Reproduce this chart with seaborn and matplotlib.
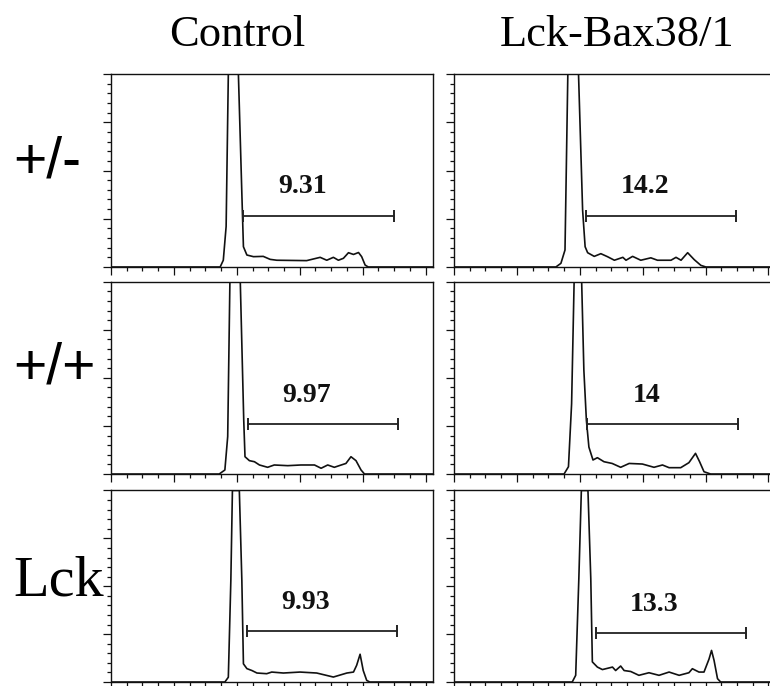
import matplotlib
matplotlib.use("Agg")
import matplotlib.pyplot as plt
from matplotlib.ticker import MultipleLocator
import seaborn as sns

col_titles = ["Control", "Lck-Bax38/1"]
row_labels = ["+/-", "+/+", "Lck"]

# DNA content histograms (channel, count)
ctrl_het_x = [0, 347, 357, 366, 373, 405, 416, 421, 432, 453, 484, 506, 527, 622, 665, 686, 707,
              723, 739, 755, 771, 787, 797, 808, 818, 1024]
ctrl_het_y = [0, 0, 7, 42, 200, 200, 76, 21, 12.4, 10.7, 11, 7.9, 7, 6.6, 10, 7, 10,
              7, 9, 14.8, 13, 15, 10.7, 2, 0, 0]

bax_het_x = [0, 324, 340, 353, 362, 396, 409, 417, 425, 446, 467, 488, 510, 537, 547, 568, 594,
             626, 647, 690, 706, 722, 743, 764, 785, 801, 1024]
bax_het_y = [0, 0, 3.8, 17.6, 200, 200, 59, 21, 14.8, 11, 13.8, 10.7, 7, 10, 7, 11, 7,
             9.5, 7, 7, 10, 7, 14.8, 7.6, 1.7, 0, 0]

ctrl_wt_x = [0, 344, 362, 371, 378, 411, 422, 426, 440, 456, 472, 498, 519, 562, 604, 647, 668,
             689, 710, 732, 747, 763, 779, 795, 806, 1024]
ctrl_wt_y = [0, 0, 4.2, 39, 200, 200, 56, 18, 13.9, 12.8, 9.4, 7, 9.4, 8.7, 9.4, 9.4, 6,
             9.4, 7, 9.4, 11, 18, 13.9, 4.2, 0, 0]

bax_wt_x = [0, 350, 364, 374, 382, 406, 413, 421, 429, 442, 456, 477, 503, 530, 557, 599, 636,
            663, 684, 721, 747, 768, 781, 795, 816, 1024]
bax_wt_y = [0, 0, 7.6, 73, 200, 200, 108, 56, 28, 14.6, 17, 12.8, 11, 7, 11, 10.4, 7,
            9.4, 6.6, 6.6, 11.8, 21.5, 12.8, 2.4, 0, 0]

ctrl_lck_x = [0, 362, 373, 381, 386, 408, 416, 421, 432, 448, 464, 495, 511, 548, 601, 654, 707,
              750, 771, 781, 792, 802, 813, 823, 1024]
ctrl_lck_y = [0, 0, 5, 106, 200, 200, 106, 19, 14, 12, 9.4, 8.7, 10.4, 9.4, 10.4, 9.4, 5.2,
              9.4, 10.4, 17.4, 29, 12, 1.7, 0, 0]

bax_lck_x = [0, 376, 387, 397, 405, 426, 435, 440, 456, 472, 504, 514, 530, 541, 562, 588, 620,
             652, 684, 716, 747, 758, 779, 795, 811, 819, 827, 838, 848, 1024]
bax_lck_y = [0, 0, 7, 108, 200, 200, 108, 21, 15.6, 13, 15.6, 12, 16.7, 12, 11, 7, 9.7,
             7, 10.4, 7, 9.7, 13.9, 10.4, 10.4, 24, 33, 22.6, 3.5, 0, 0]

hist_x = [[ctrl_het_x, bax_het_x], [ctrl_wt_x, bax_wt_x], [ctrl_lck_x, bax_lck_x]]
hist_y = [[ctrl_het_y, bax_het_y], [ctrl_wt_y, bax_wt_y], [ctrl_lck_y, bax_lck_y]]

# marker gates (% of cells above the G1 peak)
gate_pct = [["9.31", "14.2"], ["9.97", "14"], ["9.93", "13.3"]]
gate_lo = [[421, 420], [435, 424], [432, 451]]
gate_hi = [[900, 897], [912, 904], [909, 928]]
gate_y = [[53, 53], [52, 52], [53, 51]]

sns.set_style("ticks")
plt.rcParams["font.family"] = ["Liberation Serif", "DejaVu Serif"]

fig = plt.figure(figsize=(7.7, 6.86), dpi=100)

col_left = [0.1442, 0.5896]
row_bottom = [0.6108, 0.3090, 0.0058]
row_height = [0.2813, 0.2803, 0.2792]
ink = "#111111"

for r in range(3):
    for c in range(2):
        ax = fig.add_axes([col_left[c], row_bottom[r], 0.4182, row_height[r]])
        sns.lineplot(x=hist_x[r][c], y=hist_y[r][c], ax=ax, color=ink, lw=1.2, sort=False)
        ax.plot([gate_lo[r][c], gate_hi[r][c]], [gate_y[r][c]] * 2, color="#222222", lw=1.3,
                marker="|", markersize=9, markeredgewidth=1.4)
        mid = gate_lo[r][c] + 0.39 * (gate_hi[r][c] - gate_lo[r][c])
        ax.text(mid, gate_y[r][c] + 30, gate_pct[r][c], ha="center", va="center",
                fontsize=20, fontweight="bold", color=ink)
        ax.set_xlim(0, 1024)
        ax.set_ylim(0, 200)
        ax.xaxis.set_major_locator(MultipleLocator(200))
        ax.xaxis.set_minor_locator(MultipleLocator(50))
        ax.yaxis.set_major_locator(MultipleLocator(50))
        ax.yaxis.set_minor_locator(MultipleLocator(10))
        ax.tick_params(which="major", direction="out", length=5.5, width=0.9, color=ink,
                       labelbottom=False, labelleft=False)
        ax.tick_params(which="minor", direction="out", length=2.8, width=0.9, color=ink)
        ax.set_xlabel("")
        ax.set_ylabel("")
        for s in ax.spines.values():
            s.set_visible(True)
            s.set_linewidth(1.0)
            s.set_color(ink)

title_x = [237, 617]
for c in range(2):
    fig.text(title_x[c] / 770, 1 - 46 / 686, col_titles[c], ha="center", va="baseline",
             fontsize=32, color="black")

label_base = [177, 384, 595]
label_font = [["Liberation Sans", "DejaVu Sans"], ["Liberation Sans", "DejaVu Sans"],
              ["Liberation Serif", "DejaVu Serif"]]
label_size = [41, 41, 42]
for r in range(3):
    fig.text(13 / 770, 1 - label_base[r] / 686, row_labels[r], ha="left", va="baseline",
             fontsize=label_size[r], family=label_font[r], color="black")

fig.savefig("out.png", dpi=100)
